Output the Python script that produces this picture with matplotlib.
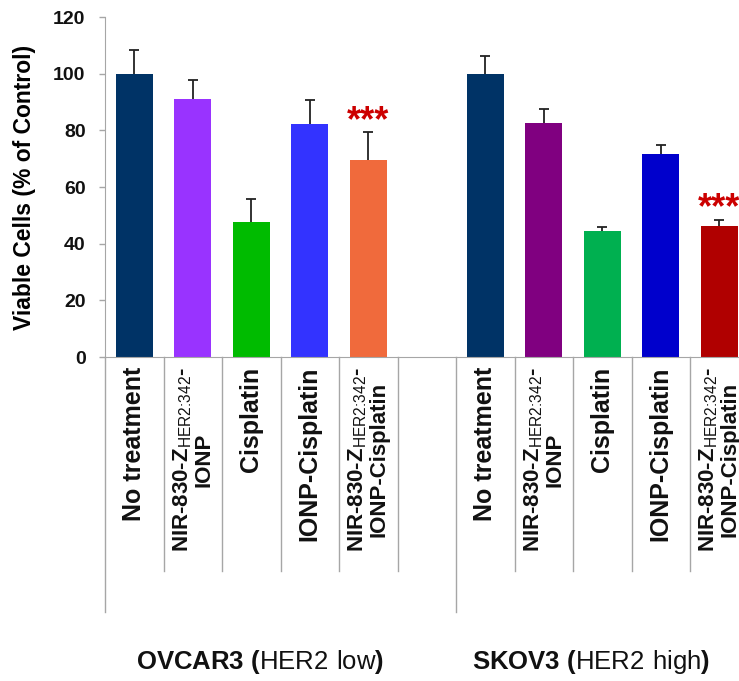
import matplotlib
matplotlib.use('Agg')
import matplotlib.pyplot as plt
import matplotlib.transforms as mtransforms

plt.rcParams['font.family'] = ['Liberation Sans', 'DejaVu Sans']
plt.rcParams['mathtext.fontset'] = 'custom'
plt.rcParams['mathtext.rm'] = 'Liberation Sans'
plt.rcParams['mathtext.bf'] = 'Liberation Sans:bold'

# treatment labels (same order for both cell lines)
treatments = ["No treatment",
              "NIR-830-Z$_\\mathrm{HER2\\text{:}342}$-\nIONP",
              "Cisplatin",
              "IONP-Cisplatin",
              "NIR-830-Z$_\\mathrm{HER2\\text{:}342}$-\nIONP-Cisplatin"]

cell_lines = ["OVCAR3 ($\\mathrm{HER2\\ low}$)", "SKOV3 ($\\mathrm{HER2\\ high}$)"]

# viable cells, % of control
ovcar3_mean = [100, 91.2, 47.6, 82.3, 69.4]
ovcar3_err = [8.4, 6.4, 8.0, 8.5, 9.9]
skov3_mean = [100, 82.7, 44.5, 71.7, 46.2]
skov3_err = [6.2, 4.8, 1.3, 3.3, 2.3]

# bars marked ***
ovcar3_sig = [4]
skov3_sig = [4]

ovcar3_colors = ['#003366', '#9933ff', '#00bb00', '#3333ff', '#f06a3c']
skov3_colors = ['#003366', '#800080', '#00b050', '#0000cc', '#b00000']

grey = '#a6a6a6'

fig = plt.figure(figsize=(7.39, 6.81), dpi=100)
# axes runs a bit past the right edge, like the cropped original
ax = fig.add_axes([105 / 739, 1 - 357 / 681, 643.5 / 739, 340 / 681])

groups = [(0, ovcar3_mean, ovcar3_err, ovcar3_colors, ovcar3_sig),
          (6, skov3_mean, skov3_err, skov3_colors, skov3_sig)]

for start, mean, err, colors, sig in groups:
    xs = [start + i for i in range(len(mean))]
    bars = ax.bar(xs, mean, width=0.63, color=colors,
                  yerr=[[0] * len(err), err],
                  error_kw=dict(ecolor='#222222', elinewidth=1.3, capsize=3.5, capthick=1.3))
    # only the upper cap
    bars.errorbar.lines[1][0].set_visible(False)
    for i in sig:
        ax.annotate('***', xy=(xs[i], mean[i] + err[i]), xytext=(0, 1),
                    textcoords='offset points', ha='center', va='baseline',
                    color='#cc0000', fontsize=26, fontweight='bold',
                    annotation_clip=False)

ax.set_xlim(-0.5, 10.5)
ax.set_ylim(0, 120)
ax.set_yticks(range(0, 121, 20))
ax.set_xticks([])
for s in ['top', 'right']:
    ax.spines[s].set_visible(False)
for s in ['left', 'bottom']:
    ax.spines[s].set_color(grey)
ax.tick_params(axis='y', direction='out', length=4, color=grey, width=1,
               labelsize=14, pad=10, labelcolor='#111111')
for t in ax.get_yticklabels():
    t.set_fontweight('bold')

ax.set_ylabel('Viable Cells (% of Control)', fontsize=16.5, fontweight='bold')
ax.yaxis.set_label_coords(-0.107, 0.5)

trans = mtransforms.blended_transform_factory(ax.transData, ax.transAxes)

# category dividers under the axis
for b in [i - 0.5 for i in range(12)]:
    depth = (612 - 357) / 340 if b in (-0.5, 5.5) else (571 - 357) / 340
    ax.plot([b, b], [0, -depth], transform=trans, color=grey, lw=1, clip_on=False)

# rotated treatment labels (the last one is cut by the edge, as in the original)
for start in (0, 6):
    for i, lab in enumerate(treatments):
        size = 16 if '\n' in lab else 18
        ax.text(start + i, -10 / 340, lab, transform=trans, rotation=90,
                ha='center', va='top', fontsize=size, fontweight='bold',
                multialignment='center', color='#111111', linespacing=0.95)

# cell line captions
for x, lab in zip([2.15, 7.8], cell_lines):
    ax.text(x, (357 - 662) / 340, lab, transform=trans, ha='center', va='center',
            fontsize=18.5, fontweight='bold', color='#111111')

fig.savefig('out.png', dpi=100)
